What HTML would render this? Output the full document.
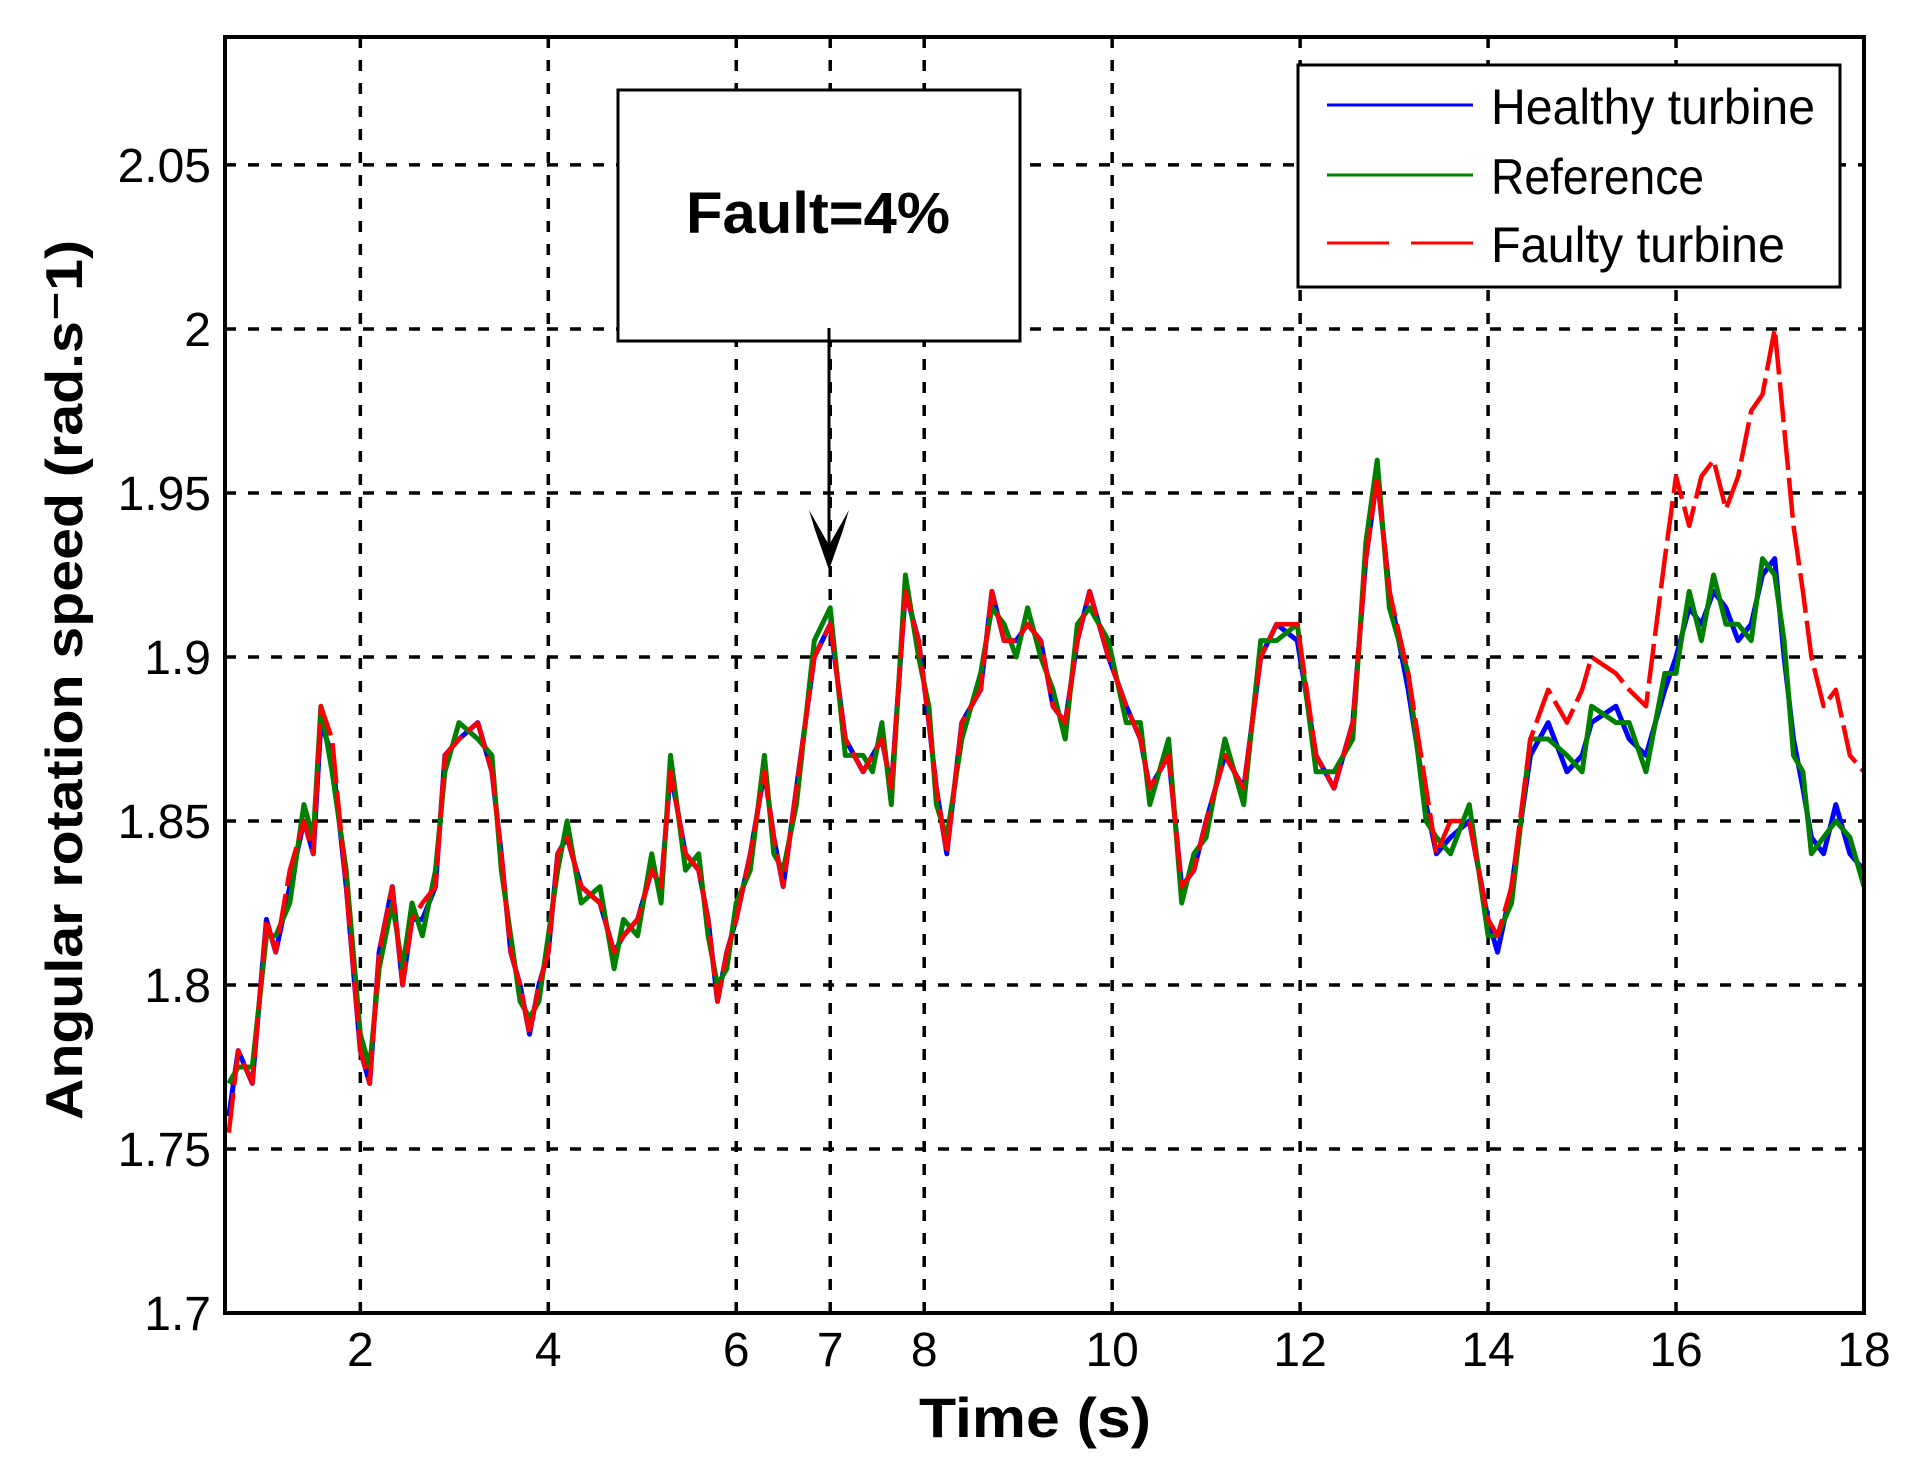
<!DOCTYPE html>
<html><head><meta charset="utf-8"><style>
html,body{margin:0;padding:0;background:#fff;}
svg{display:block;font-family:"Liberation Sans",Arial,sans-serif;}
</style></head><body>
<svg id="chart" width="1920" height="1481" viewBox="0 0 1920 1481" xmlns="http://www.w3.org/2000/svg">
<rect width="1920" height="1481" fill="#fff"/>
<g id="grid"></g>
<g id="series"></g>
<rect x="225" y="37" width="1639" height="1276" fill="none" stroke="#000" stroke-width="4"/>
<g id="ticks" font-size="48" fill="#000"></g>
<text x="1035" y="1437" font-size="56" font-weight="bold" text-anchor="middle" textLength="232" lengthAdjust="spacingAndGlyphs">Time (s)</text>
<text transform="translate(82,680) rotate(-90)" font-size="52" font-weight="bold" text-anchor="middle" textLength="880" lengthAdjust="spacingAndGlyphs">Angular rotation speed (rad.s⁻1)</text>
<g>
<rect x="618" y="90" width="402" height="251" fill="#fff" stroke="#000" stroke-width="3"/>
<text x="818" y="233" font-size="58" font-weight="bold" text-anchor="middle" textLength="264" lengthAdjust="spacingAndGlyphs">Fault=4%</text>
<line x1="829" y1="328" x2="829" y2="560" stroke="#000" stroke-width="3"/>
<polygon points="809,510 829,545 849,510 843,530 829,570 815,530" fill="#000"/>
</g>
<g>
<rect x="1298" y="65" width="542" height="222" fill="#fff" stroke="#000" stroke-width="3"/>
<line x1="1327" y1="105" x2="1473" y2="105" stroke="#0000ff" stroke-width="3"/>
<text x="1491" y="124" font-size="50" textLength="324" lengthAdjust="spacingAndGlyphs">Healthy turbine</text>
<line x1="1327" y1="175" x2="1473" y2="175" stroke="#008000" stroke-width="3"/>
<text x="1491" y="194" font-size="50" textLength="213" lengthAdjust="spacingAndGlyphs">Reference</text>
<line x1="1327" y1="243" x2="1473" y2="243" stroke="#ff0000" stroke-width="3" stroke-dasharray="62,22"/>
<text x="1491" y="262" font-size="50" textLength="294" lengthAdjust="spacingAndGlyphs">Faulty turbine</text>
</g>
</svg>
<script>
const xTicks=[2,4,6,7,8,10,12,14,16,18];
const yTicks=[1.7,1.75,1.8,1.85,1.9,1.95,2,2.05];
const yTickLabels=["1.7","1.75","1.8","1.85","1.9","1.95","2","2.05"];
const times=[0.6,0.7,0.85,1.0,1.1,1.25,1.4,1.5,1.58,1.7,1.85,2.0,2.1,2.2,2.34,2.45,2.55,2.66,2.8,2.9,3.05,3.25,3.4,3.5,3.6,3.7,3.8,3.9,4.0,4.1,4.2,4.35,4.55,4.7,4.8,4.95,5.1,5.2,5.3,5.46,5.6,5.7,5.8,5.9,6.0,6.15,6.3,6.4,6.5,6.64,6.83,7.0,7.16,7.35,7.45,7.55,7.65,7.8,7.94,8.05,8.13,8.24,8.4,8.6,8.72,8.85,8.98,9.1,9.24,9.37,9.5,9.63,9.76,9.96,10.15,10.3,10.4,10.6,10.74,10.87,11.0,11.2,11.4,11.58,11.75,11.97,12.17,12.36,12.56,12.7,12.82,12.95,13.15,13.34,13.45,13.6,13.8,14.0,14.1,14.25,14.45,14.64,14.84,15.0,15.1,15.36,15.5,15.68,15.88,16.0,16.14,16.27,16.4,16.53,16.66,16.8,16.92,17.05,17.15,17.25,17.35,17.44,17.57,17.7,17.85,18.0];
const healthy=[1.76,1.78,1.77,1.82,1.81,1.83,1.85,1.84,1.88,1.87,1.83,1.78,1.77,1.81,1.83,1.80,1.82,1.82,1.83,1.87,1.875,1.88,1.865,1.84,1.81,1.80,1.785,1.80,1.81,1.84,1.845,1.83,1.825,1.81,1.815,1.82,1.835,1.83,1.865,1.84,1.835,1.82,1.795,1.81,1.82,1.84,1.865,1.845,1.83,1.86,1.90,1.91,1.875,1.865,1.87,1.875,1.86,1.92,1.905,1.88,1.86,1.84,1.88,1.89,1.92,1.905,1.905,1.91,1.905,1.885,1.88,1.905,1.92,1.90,1.885,1.875,1.86,1.87,1.83,1.835,1.85,1.87,1.86,1.90,1.91,1.905,1.87,1.86,1.88,1.93,1.955,1.92,1.89,1.855,1.84,1.845,1.85,1.82,1.81,1.83,1.87,1.88,1.865,1.87,1.88,1.885,1.875,1.87,1.89,1.90,1.915,1.91,1.92,1.915,1.905,1.91,1.925,1.93,1.90,1.875,1.86,1.845,1.84,1.855,1.84,1.835];
const reference=[1.77,1.775,1.775,1.815,1.815,1.825,1.855,1.845,1.885,1.865,1.835,1.785,1.775,1.805,1.825,1.805,1.825,1.815,1.835,1.865,1.88,1.875,1.87,1.835,1.815,1.795,1.79,1.795,1.815,1.835,1.85,1.825,1.83,1.805,1.82,1.815,1.84,1.825,1.87,1.835,1.84,1.815,1.80,1.805,1.825,1.835,1.87,1.84,1.835,1.855,1.905,1.915,1.87,1.87,1.865,1.88,1.855,1.925,1.90,1.885,1.855,1.845,1.875,1.895,1.915,1.91,1.90,1.915,1.90,1.89,1.875,1.91,1.915,1.905,1.88,1.88,1.855,1.875,1.825,1.84,1.845,1.875,1.855,1.905,1.905,1.91,1.865,1.865,1.875,1.935,1.96,1.915,1.895,1.85,1.845,1.84,1.855,1.815,1.815,1.825,1.875,1.875,1.87,1.865,1.885,1.88,1.88,1.865,1.895,1.895,1.92,1.905,1.925,1.91,1.91,1.905,1.93,1.925,1.905,1.87,1.865,1.84,1.845,1.85,1.845,1.83];
const faulty=[1.755,1.78,1.77,1.82,1.81,1.835,1.85,1.84,1.885,1.875,1.83,1.78,1.77,1.81,1.83,1.80,1.82,1.825,1.83,1.87,1.875,1.88,1.865,1.84,1.81,1.80,1.785,1.80,1.81,1.84,1.845,1.83,1.825,1.81,1.815,1.82,1.835,1.83,1.865,1.84,1.835,1.82,1.795,1.81,1.82,1.84,1.865,1.845,1.83,1.86,1.90,1.91,1.875,1.865,1.87,1.875,1.86,1.92,1.905,1.88,1.86,1.84,1.88,1.89,1.92,1.905,1.905,1.91,1.905,1.885,1.88,1.905,1.92,1.90,1.885,1.875,1.86,1.87,1.83,1.835,1.85,1.87,1.86,1.90,1.91,1.91,1.87,1.86,1.88,1.93,1.955,1.92,1.895,1.86,1.84,1.85,1.85,1.82,1.815,1.83,1.875,1.89,1.88,1.89,1.90,1.895,1.89,1.885,1.93,1.955,1.94,1.955,1.96,1.945,1.955,1.975,1.98,2.0,1.97,1.94,1.92,1.90,1.885,1.89,1.87,1.865];

const X0=225,X1=1864,Y0=37,Y1=1313,XMIN=0.56,XMAX=18,YMIN=1.7,YMAX=2.089;
function sx(t){return X0+(t-XMIN)/(XMAX-XMIN)*(X1-X0);}
function sy(v){return Y1-(v-YMIN)/(YMAX-YMIN)*(Y1-Y0);}
const NS="http://www.w3.org/2000/svg";
function mk(tag,attrs,parent){const e=document.createElementNS(NS,tag);for(const k in attrs)e.setAttribute(k,attrs[k]);parent.appendChild(e);return e;}
const grid=document.getElementById('grid'),ticks=document.getElementById('ticks'),ser=document.getElementById('series');
xTicks.forEach(t=>{
  const x=sx(t);
  if(t<XMAX){const g=mk('line',{x1:x,y1:Y0,x2:x,y2:Y1,stroke:'#000','stroke-width':3.5,'stroke-dasharray':'11,12'},grid);
  
  }
  const tx=mk('text',{x:x,y:1366,'text-anchor':'middle'},ticks);
  
  
  tx.textContent=String(t);
});
yTicks.forEach((v,i)=>{
  const y=sy(v);
  if(i>0){const g=mk('line',{x1:X0,y1:y,x2:X1,y2:y,stroke:'#000','stroke-width':3.5,'stroke-dasharray':'11,12'},grid);
  
  }
  const tx=mk('text',{x:211,y:y+17,'text-anchor':'end'},ticks);
  
  
  tx.textContent=yTickLabels[i];
});
function pts(vals){const n=Math.min(times.length,vals.length);let s=[];for(let i=0;i<n;i++)s.push(sx(times[i]).toFixed(1)+','+sy(vals[i]).toFixed(1));return s.join(' ');}
const lh=mk('polyline',{points:pts(healthy),fill:'none',stroke:'#0000ff','stroke-width':5,'stroke-linejoin':'round'},ser);


const lr=mk('polyline',{points:pts(reference),fill:'none',stroke:'#008000','stroke-width':5,'stroke-linejoin':'round'},ser);


const lf=mk('polyline',{points:pts(faulty),fill:'none',stroke:'#ff0000','stroke-width':4.5,'stroke-dasharray':'40,8','stroke-linejoin':'round'},ser);


</script>
</body></html>
